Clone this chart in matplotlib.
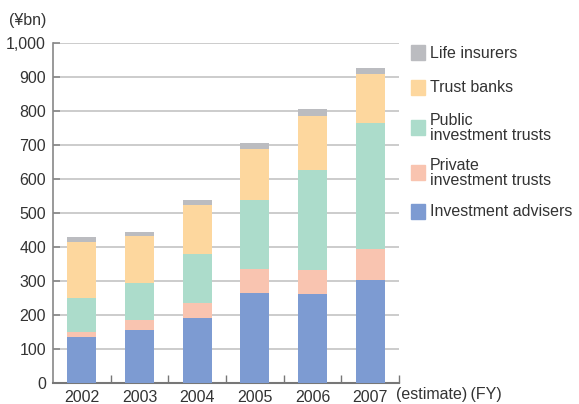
import numpy as np
import matplotlib
matplotlib.use("Agg")
import matplotlib.pyplot as plt
from matplotlib.patches import Rectangle

# values in ¥bn
years = ["2002", "2003", "2004", "2005", "2006", "2007"]
advisers = [135, 155, 190, 263, 260, 301]
private_trusts = [15, 30, 44, 71, 71, 92]
public_trusts = [100, 108, 144, 203, 294, 371]
trust_banks = [165, 138, 144, 150, 159, 143]
life_insurers = [15, 12, 15, 17, 20, 18]

series = [
    ("Investment advisers", advisers, "#7d9bd2"),
    ("Private\ninvestment trusts", private_trusts, "#f9c4b0"),
    ("Public\ninvestment trusts", public_trusts, "#acdccb"),
    ("Trust banks", trust_banks, "#fdd79e"),
    ("Life insurers", life_insurers, "#bbbcc0"),
]

plt.rcParams['font.family'] = ['Liberation Sans', 'DejaVu Sans']
text_color = '#333333'

fig = plt.figure(figsize=(5.79, 4.04), dpi=100)
ax = fig.add_axes([0.0915, 0.0527, 0.5975, 0.8415])

x = np.arange(len(years))
bottom = np.zeros(len(years))
for label, vals, color in series:
    ax.bar(x, vals, 0.5, bottom=bottom, color=color, zorder=3)
    bottom += np.array(vals)

ax.set_xlim(-0.5, len(years) - 0.5)
ax.set_ylim(0, 1000)
ax.set_yticks(range(0, 1001, 100))
ax.set_yticklabels(["{:,}".format(v) for v in range(0, 1001, 100)])
ax.yaxis.grid(True, color='#c4c4c4', linewidth=1.2, zorder=0)

ax.set_xticks(x)
ax.set_xticklabels(years)
ax.set_xticks(np.arange(0.5, len(years) - 0.4, 1), minor=True)
ax.tick_params(axis='x', which='major', length=0, pad=5, labelsize=11.5, labelcolor=text_color)
ax.tick_params(axis='x', which='minor', direction='in', length=6, color='#777777', width=1)
ax.tick_params(axis='y', direction='in', length=5, color='#888888', width=1.2,
               pad=5, labelsize=11.5, labelcolor=text_color)

for s in ['top', 'right']:
    ax.spines[s].set_visible(False)
ax.spines['left'].set_color('#888888')
ax.spines['bottom'].set_color('#777777')
ax.spines['left'].set_linewidth(1.2)
ax.spines['bottom'].set_linewidth(1.5)

fig.text(9 / 579, 1 - 20 / 404, "(¥bn)", fontsize=11.5, color=text_color, va='center', ha='left')
fig.text(396 / 579, 1 - 395 / 404, "(estimate)\u2009(FY)", fontsize=11.5, color=text_color,
         va='center', ha='left')

# legend, drawn by hand to match the spacing
legend_y = [212, 173, 128, 88, 53]
for (label, vals, color), yc in zip(series, legend_y):
    fig.patches.append(Rectangle((411 / 579, 1 - (yc + 7) / 404), 14 / 579, 15 / 404,
                                 transform=fig.transFigure, color=color, figure=fig))
    fig.text(430 / 579, 1 - yc / 404, label, fontsize=11.5, color=text_color,
             va='center', ha='left', linespacing=0.95)

fig.savefig("out.png", dpi=100)
